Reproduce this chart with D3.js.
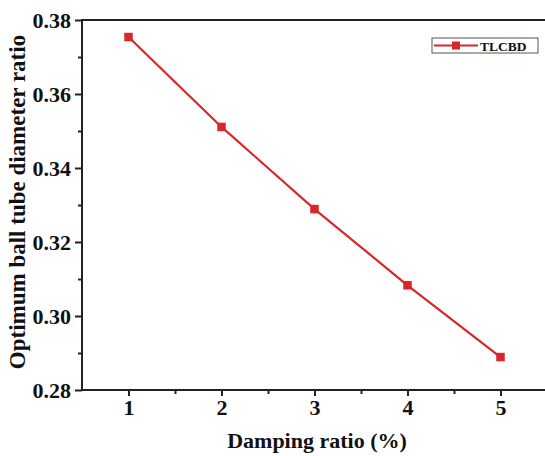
<!DOCTYPE html>
<html>
<head>
<meta charset="utf-8">
<script src="https://cdn.jsdelivr.net/npm/d3@7"></script>
<style>
body { margin: 0; background: #fff; }
text { font-family: "Liberation Serif", "Times New Roman", serif; font-weight: bold; fill: #111; }
</style>
</head>
<body>
<svg></svg>
<script>
// data
let dampRatio = [1, 2, 3, 4, 5]
let tubeRatio = [0.3754, 0.3511, 0.3289, 0.3083, 0.2889]
let yTicks = [0.28, 0.30, 0.32, 0.34, 0.36, 0.38]
let xTicks = [1, 2, 3, 4, 5]
let seriesName = "TLCBD"

let w = 545, h = 456
let svg = d3.select("svg").attr("width", w).attr("height", h)

let mLeft = 82, mRight = 547, mTop = 20, mBottom = 390
let color = "#d9262a"

let x = d3.scaleLinear().domain([0.5, 5.5]).range([mLeft, mRight])
let y = d3.scaleLinear().domain([0.28, 0.38]).range([mBottom, mTop])

// frame
svg.append("rect")
    .attr("x", mLeft).attr("y", mTop)
    .attr("width", mRight - mLeft).attr("height", mBottom - mTop)
    .attr("fill", "none").attr("stroke", "#222").attr("stroke-width", 2)

// y axis
let yAxis = svg.append("g").attr("transform", "translate(" + mLeft + ",0)")
    .call(d3.axisLeft(y).tickValues(yTicks).tickFormat(d3.format(".2f")).tickSize(7).tickPadding(4))
let yMinor = svg.append("g").attr("transform", "translate(" + mLeft + ",0)")
    .call(d3.axisLeft(y).tickValues([0.29, 0.31, 0.33, 0.35, 0.37]).tickFormat("").tickSize(4))

// x axis
let xAxis = svg.append("g").attr("transform", "translate(0," + mBottom + ")")
    .call(d3.axisBottom(x).tickValues(xTicks).tickFormat(d3.format("d")).tickSize(6).tickPadding(4))
let xMinor = svg.append("g").attr("transform", "translate(0," + mBottom + ")")
    .call(d3.axisBottom(x).tickValues([1.5, 2.5, 3.5, 4.5]).tickFormat("").tickSize(4))

svg.selectAll("g .domain").remove()
svg.selectAll("g .tick line").attr("stroke", "#222").attr("stroke-width", 2)
yAxis.selectAll("text").style("font-size", "22px").attr("dy", "0.34em")
xAxis.selectAll("text").style("font-size", "22px").attr("dy", "0.68em")

// axis titles
svg.append("text")
    .attr("x", 317).attr("y", 448)
    .attr("text-anchor", "middle")
    .style("font-size", "22px")
    .text("Damping ratio (%)")

svg.append("text")
    .attr("transform", "translate(25,202) rotate(-90)")
    .attr("text-anchor", "middle")
    .style("font-size", "23px")
    .text("Optimum ball tube diameter ratio")

// series
let line = d3.line()
    .x((d, i) => x(dampRatio[i]))
    .y(d => y(d))

svg.append("path")
    .datum(tubeRatio)
    .attr("d", line)
    .attr("fill", "none")
    .attr("stroke", color)
    .attr("stroke-width", 2.2)

svg.selectAll(".pt")
    .data(tubeRatio)
    .enter().append("rect")
    .attr("class", "pt")
    .attr("x", (d, i) => x(dampRatio[i]) - 4.25)
    .attr("y", d => y(d) - 4.25)
    .attr("width", 8.5).attr("height", 8.5)
    .attr("fill", color)

// legend
let lg = svg.append("g").attr("transform", "translate(432,38)")
lg.append("rect")
    .attr("width", 106).attr("height", 15)
    .attr("fill", "#fff").attr("stroke", "#555").attr("stroke-width", 1)
lg.append("line")
    .attr("x1", 2).attr("x2", 46).attr("y1", 7.5).attr("y2", 7.5)
    .attr("stroke", color).attr("stroke-width", 2.2)
lg.append("rect")
    .attr("x", 20).attr("y", 3.5).attr("width", 8).attr("height", 8)
    .attr("fill", color)
lg.append("text")
    .attr("x", 48).attr("y", 12.5)
    .style("font-size", "13.5px")
    .text(seriesName)
</script>
</body>
</html>
